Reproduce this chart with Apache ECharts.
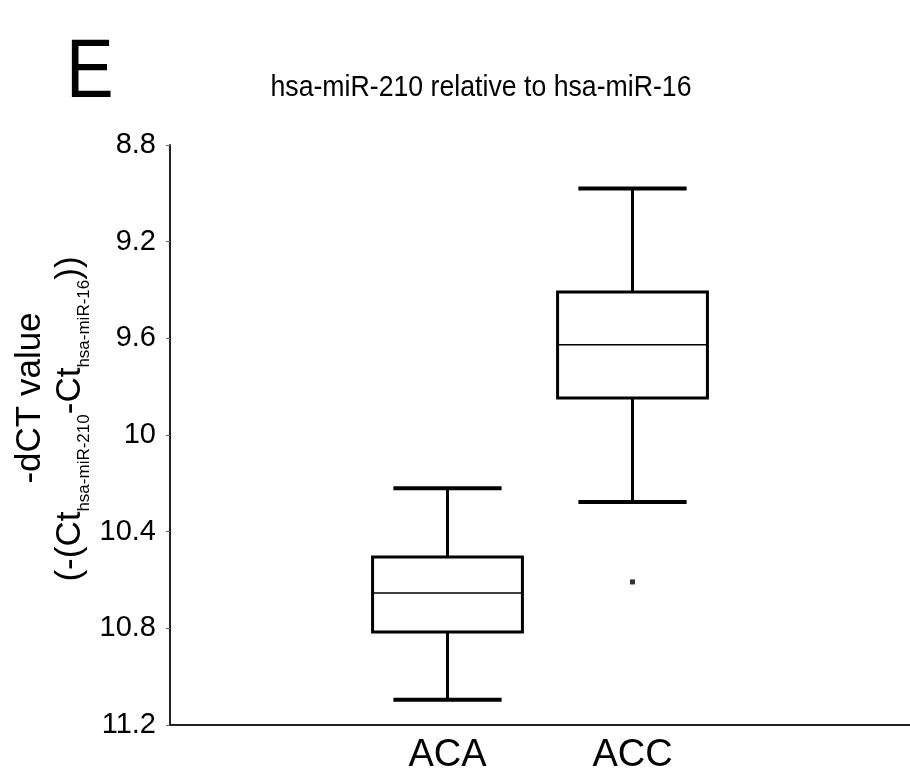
<!DOCTYPE html>
<html>
<head>
<meta charset="utf-8">
<script src="https://cdn.jsdelivr.net/npm/echarts@6/dist/echarts.min.js"></script>
<style>
html,body{margin:0;padding:0;background:#fff;}
#chart{width:910px;height:780px;}
</style>
</head>
<body>
<div id="chart"></div>
<script>
// ---- data ----
var categories = ['', 'ACA', 'ACC', ''];
var groups = ['ACA', 'ACC'];
var whiskerLow = [10.22, 8.98];   // top whisker (smaller value)
var q1 = [10.505, 9.408];
var median = [10.654, 9.627];
var q3 = [10.815, 9.847];
var whiskerHigh = [11.096, 10.277]; // bottom whisker
var outlierGroups = ['ACC'];
var outlierValues = [10.608];
var yTicks = [8.8, 9.2, 9.6, 10, 10.4, 10.8, 11.2];
var titleText = 'hsa-miR-210 relative to hsa-miR-16';
var panelLabel = 'E';

var FONT = "'Liberation Sans', Arial, sans-serif";

var boxData = groups.map(function (g, i) {
  return [g, whiskerLow[i], q1[i], median[i], q3[i], whiskerHigh[i]];
});
var outlierData = outlierGroups.map(function (g, i) { return [g, outlierValues[i]]; });

var chart = echarts.init(document.getElementById('chart'), null, {renderer: 'canvas'});

function renderBox(params, api) {
  var x = api.value(0);
  var band = api.size([1, 0])[0];
  var bw = band * 0.81;
  var cw = band * 0.585;
  var pt = function (d) { return api.coord([x, api.value(d)]); };
  var c = pt(1)[0];
  var yLo = pt(1)[1], yQ1 = pt(2)[1], yMed = pt(3)[1], yQ3 = pt(4)[1], yHi = pt(5)[1];
  var top = Math.min(yQ1, yQ3), bot = Math.max(yQ1, yQ3);
  var ls = {stroke: '#000', lineWidth: 3, fill: null};
  return {
    type: 'group',
    children: [
      {type: 'line', shape: {x1: c, y1: yLo, x2: c, y2: top}, style: ls},
      {type: 'line', shape: {x1: c, y1: bot, x2: c, y2: yHi}, style: ls},
      {type: 'line', shape: {x1: c - cw / 2, y1: yLo, x2: c + cw / 2, y2: yLo}, style: {stroke: '#000', lineWidth: 4}},
      {type: 'line', shape: {x1: c - cw / 2, y1: yHi, x2: c + cw / 2, y2: yHi}, style: {stroke: '#000', lineWidth: 4}},
      {type: 'rect', shape: {x: c - bw / 2, y: top, width: bw, height: bot - top}, style: {fill: '#fff', stroke: '#000', lineWidth: 3}},
      {type: 'line', shape: {x1: c - bw / 2, y1: yMed, x2: c + bw / 2, y2: yMed}, style: {stroke: '#000', lineWidth: 1.5}}
    ]
  };
}

var option = {
  backgroundColor: '#fff',
  animation: false,
  textStyle: {fontFamily: FONT},
  grid: {left: 170, top: 145, width: 752, height: 580, containLabel: false},
  xAxis: {
    type: 'category',
    data: categories,
    axisLine: {lineStyle: {color: '#222', width: 2}},
    axisTick: {show: false},
    axisLabel: {fontSize: 38, color: '#000', margin: 12, fontFamily: FONT, interval: 0},
    splitLine: {show: false}
  },
  yAxis: {
    type: 'value',
    inverse: true,
    min: 8.8,
    max: 11.2,
    interval: 0.4,
    axisLine: {show: true, lineStyle: {color: '#222', width: 2}},
    axisTick: {show: true, inside: false, length: 4, lineStyle: {color: '#666', width: 1}},
    axisLabel: {
      fontSize: 29, color: '#000', margin: 14, fontFamily: FONT,
      formatter: function (v) {
        for (var i = 0; i < yTicks.length; i++) {
          if (Math.abs(yTicks[i] - v) < 1e-6) return String(yTicks[i]);
        }
        return '';
      }
    },
    splitLine: {show: false}
  },
  graphic: [
    {type: 'text', x: 66, y: 32, scaleX: 0.85, style: {text: panelLabel, font: '84px ' + FONT, fill: '#000'}},
    {type: 'text', x: 481, y: 88, scaleX: 0.92, style: {text: titleText, font: '29px ' + FONT, fill: '#000', textAlign: 'center', textVerticalAlign: 'middle'}},
    {type: 'text', x: 30, y: 398, rotation: Math.PI / 2,
      style: {text: '-dCT value', font: '35px ' + FONT, fill: '#000', textAlign: 'center', textVerticalAlign: 'middle'}},
    {type: 'text', x: 70, y: 419, rotation: Math.PI / 2,
      style: {
        text: '{b|(-(Ct}{s|hsa-miR-210}{b|-Ct}{s|hsa-miR-16}{b|))}',
        align: 'center', verticalAlign: 'middle', fill: '#000',
        rich: {
          b: {fontSize: 35, fontFamily: FONT, lineHeight: 46, verticalAlign: 'middle', fill: '#000'},
          s: {fontSize: 17, fontFamily: FONT, lineHeight: 17, verticalAlign: 'bottom', fill: '#000'}
        }
      }}
  ],
  series: [
    {type: 'custom', name: 'box', renderItem: renderBox, data: boxData, encode: {x: 0, y: [1, 2, 3, 4, 5]}, z: 3},
    {type: 'scatter', name: 'outlier', data: outlierData, symbol: 'rect', symbolSize: 5, itemStyle: {color: '#000'}, z: 4}
  ]
};
chart.setOption(option);
</script>
</body>
</html>
